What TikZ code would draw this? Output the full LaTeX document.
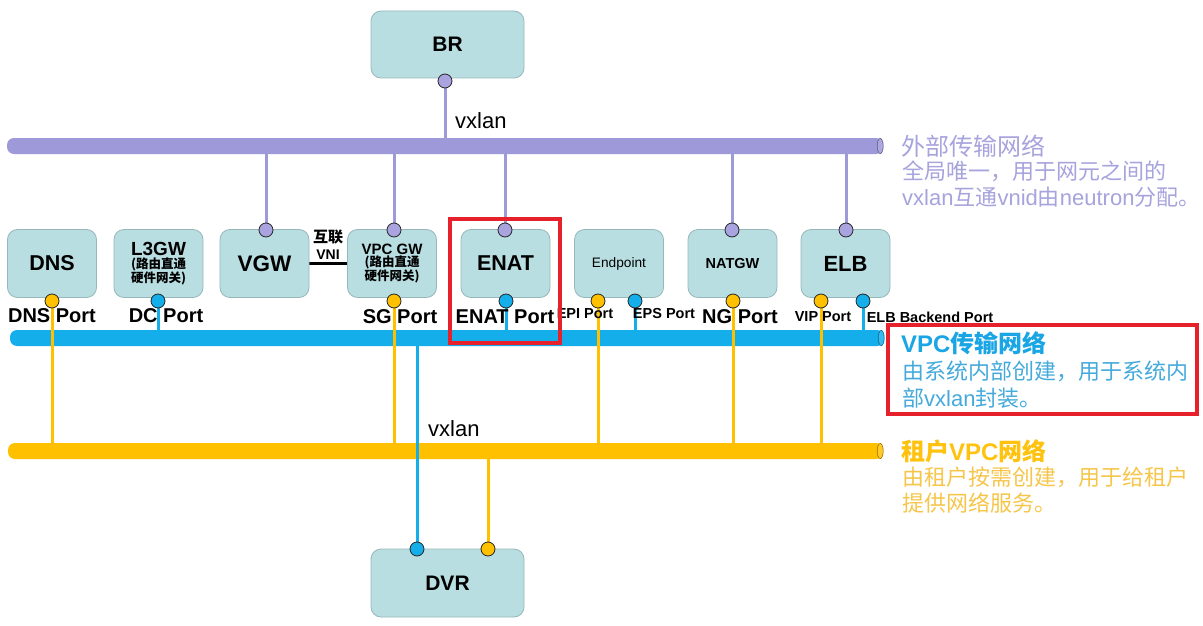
\documentclass[tikz,border=0pt]{standalone}
\usepackage{fontspec}
\setmainfont{Liberation Sans}
\newfontfamily\cjk{Noto Sans CJK SC}
\newcommand\fsz[2]{\fontsize{#1pt}{#2pt}\selectfont}
\newcommand\la[1]{{\rmfamily #1}}
\definecolor{boxfill}{HTML}{B9DEE1}
\definecolor{boxdraw}{HTML}{97B8BB}
\definecolor{purp}{HTML}{9E9ADA}
\definecolor{purpport}{HTML}{A9A3DF}
\definecolor{vblue}{HTML}{14AEEA}
\definecolor{vyel}{HTML}{FFC000}
\definecolor{purptxt}{HTML}{A6A3DD}
\definecolor{bluetitle}{HTML}{1AA6E4}
\definecolor{bluetxt}{HTML}{45AADB}
\definecolor{yeltitle}{HTML}{FFC20E}
\definecolor{yeltxt}{HTML}{F6C64A}
\definecolor{redbox}{HTML}{E6212B}
\pgfdeclarelayer{bg}
\pgfsetlayers{bg,main}
\tikzset{
  box/.style={draw=boxdraw, fill=boxfill, rounded corners=10pt, minimum width=89pt,
    minimum height=68pt, inner sep=0pt, align=center, line width=0.8pt},
  bigbox/.style={box, minimum width=153pt, minimum height=67pt},
  port/.style={circle, draw=black!85, line width=0.8pt, minimum size=14pt, inner sep=0pt},
  pport/.style={port, fill=purpport},
  bport/.style={port, fill=vblue},
  yport/.style={port, fill=vyel},
  bar/.style={rounded corners=7pt, minimum height=16pt, inner sep=0pt},
  pline/.style={draw=purp, line width=3pt},
  bline/.style={draw=vblue, line width=3pt},
  yline/.style={draw=vyel, line width=3pt},
  plab/.style={font=\bfseries\fsz{20}{24}, inner sep=0pt},
  slab/.style={font=\bfseries\fsz{14.5}{17}, inner sep=0pt},
  rtext/.style={anchor=west, inner sep=0pt},
  redframe/.style={draw=redbox, line width=3.5pt},
}
\newcommand\smallcn{\cjk\bfseries\fsz{12.5}{14}}
\begin{document}
\begin{tikzpicture}[x=1pt,y=-1pt]
\useasboundingbox (0,0) rectangle (1203,626);

% boxes
\node[bigbox, font=\bfseries\fsz{21}{25}] (BR) at (447.5,44.5) {BR};
\node[box, font=\bfseries\fsz{21.5}{25}] (DNS) at (52,263.5) {DNS};
\node[box] (L3GW) at (158.5,263.5) {\bfseries\fsz{19}{20}L3GW\\[1pt]\smallcn (路由直通\\\smallcn 硬件网关)};
\node[box, font=\bfseries\fsz{22.5}{25}] (VGW) at (264.5,263.5) {VGW};
\node[box] (VPCGW) at (392,263.5) {\bfseries\fsz{15}{16}VPC GW\\\smallcn (路由直通\\\smallcn 硬件网关)};
\node[box, font=\bfseries\fsz{21.5}{25}] (ENAT) at (505.5,263.5) {ENAT};
\node[box, font=\fsz{13.7}{16}] (EP) at (619,263.5) {Endpoint};
\node[box, font=\bfseries\fsz{14.5}{17}] (NATGW) at (732.5,263.5) {NATGW};
\node[box, font=\bfseries\fsz{22}{25}] (ELB) at (845.5,263.5) {ELB};
\node[bigbox, minimum height=68pt, font=\bfseries\fsz{21}{25}] (DVR) at (447.5,583) {DVR};

% ports
\node[pport] (pBR) at (445,81) {};
\node[pport] (pVGW) at (266,230) {};
\node[pport] (pVPC) at (394,230) {};
\node[pport] (pENAT) at (505,230) {};
\node[pport] (pNAT) at (732,230) {};
\node[pport] (pELB) at (846,230) {};
\node[yport] (pDNS) at (52,301) {};
\node[bport] (pDC) at (158,301) {};
\node[yport] (pSG) at (394,301) {};
\node[bport] (pENATb) at (506,301) {};
\node[yport] (pEPI) at (598,301) {};
\node[bport] (pEPS) at (635,301) {};
\node[yport] (pNG) at (733,301) {};
\node[yport] (pVIP) at (821,301) {};
\node[bport] (pELBb) at (863,301) {};
\node[bport] (pDVRb) at (417,549) {};
\node[yport] (pDVRy) at (488,549) {};

\begin{pgfonlayer}{bg}
  \fill[white] (0,0) rectangle (1203,626);
  \node[bar, fill=purp, minimum width=876pt] (barP) at (445,146) {};
  \node[bar, fill=vblue, minimum width=874pt] (barB) at (447,338) {};
  \node[bar, fill=vyel, minimum width=875pt] (barY) at (445.5,451) {};
  \foreach \b/\c in {barP/purp,barB/vblue,barY/vyel}{
    \draw[fill=\c!85!white, draw=\c!60!black, line width=0.6pt]
      ([xshift=-3pt]\b.east) ellipse (3pt and 7.6pt);
  }
  % purple connectors
  \draw[pline] (pBR) -- (pBR |- barP.north);
  \foreach \p in {pVGW,pVPC,pENAT,pNAT,pELB}{
    \draw[pline] (barP.south -| \p) -- (\p);
  }
  % blue short connectors
  \foreach \p in {pDC,pENATb,pEPS,pELBb}{
    \draw[bline] (\p) -- (\p |- barB.north);
  }
  % yellow connectors to tenant bar
  \foreach \p in {pDNS,pSG,pEPI,pNG,pVIP}{
    \draw[yline] (\p) -- (\p |- barY.north);
  }
  % DVR connectors
  \draw[bline] (barB.south -| pDVRb) -- (pDVRb);
  \draw[yline] (barY.south -| pDVRy) -- (pDVRy);
  % VNI link
  \draw[line width=3pt, black] (VGW.east |- 0,263) -- (VPCGW.west |- 0,263);
\end{pgfonlayer}

% labels
\node[font=\fsz{22}{26}, anchor=west, inner sep=0pt] (vx1) at (455,121) {vxlan};
\node[font=\fsz{22}{26}, anchor=west, inner sep=0pt] (vx2) at (428,429) {vxlan};
\node[font=\cjk\bfseries\fsz{15}{17}, inner sep=0pt] (hl) at (328,237) {互联};
\node[font=\bfseries\fsz{14}{16}, inner sep=0pt] (vni) at (328,255) {VNI};

\node[plab] (lDNS) at (52,316) {DNS Port};
\node[plab] (lDC) at (166,316) {DC Port};
\node[plab] (lSG) at (400,317) {SG Port};
\node[plab] (lENAT) at (505,317) {ENAT Port};
\node[slab] (lEPI) at (585,314) {EPI Port};
\node[slab] (lEPS) at (664,314) {EPS Port};
\node[plab] (lNG) at (740,317) {NG Port};
\node[slab] (lVIP) at (823,317) {VIP Port};
\node[slab] (lELB) at (930,317) {ELB Backend Port};

% red frames
\draw[redframe] (450,219) rectangle (560,343);
\draw[redframe] (888,325) rectangle (1197,414);

% right side legend
\node[rtext, font=\cjk\fsz{24}{28}, text=purptxt] (t1) at (901,146) {外部传输网络};
\node[rtext, font=\cjk\fsz{22}{26}, text=purptxt] (t1a) at (902,171) {全局唯一，用于网元之间的};
\node[rtext, font=\cjk\fsz{22}{26}, text=purptxt] (t1b) at (902,197) {\la{vxlan}互通\la{vnid}由\la{neutron}分配。};

\node[rtext, font=\cjk\bfseries\fsz{24}{28}, text=bluetitle] (t2) at (901,343) {\la{VPC}传输网络};
\node[rtext, font=\cjk\fsz{22}{26}, text=bluetxt] (t2a) at (902,371) {由系统内部创建，用于系统内};
\node[rtext, font=\cjk\fsz{22}{26}, text=bluetxt] (t2b) at (902,398) {部\la{vxlan}封装。};

\node[rtext, font=\cjk\bfseries\fsz{24}{28}, text=yeltitle] (t3) at (901,451) {租户\la{VPC}网络};
\node[rtext, font=\cjk\fsz{22}{26}, text=yeltxt] (t3a) at (902,477) {由租户按需创建，用于给租户};
\node[rtext, font=\cjk\fsz{22}{26}, text=yeltxt] (t3b) at (902,503) {提供网络服务。};
\end{tikzpicture}
\end{document}
